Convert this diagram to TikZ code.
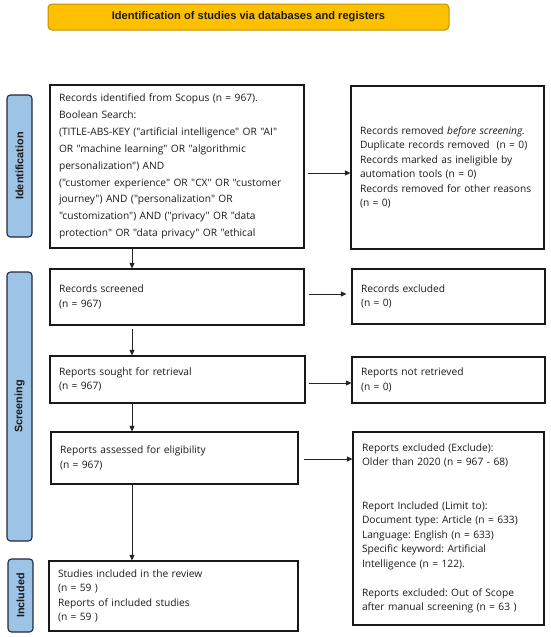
\documentclass[tikz,border=0pt]{standalone}
\usepackage{fontspec}
\setmainfont{Open Sans}[Ligatures=TeXOff]
\newfontfamily\arialfont{Liberation Sans}
\usetikzlibrary{arrows.meta}
\definecolor{gold}{HTML}{FFC000}
\definecolor{goldline}{HTML}{BF9000}
\definecolor{sideblue}{HTML}{9DC3E6}
\definecolor{sideline}{HTML}{1F2A3A}
\definecolor{txt}{HTML}{1A1A1A}
\frenchspacing
\begin{document}
\begin{tikzpicture}[x=1pt,y=-1pt,
  box/.style={draw=black!90, line width=1.1pt, rectangle, align=left, inner xsep=9pt, inner ysep=0pt,
    text=txt, font=\fontsize{10.2}{14.5}\selectfont, anchor=center},
  side/.style={draw=sideline, fill=sideblue, rounded corners=3.5pt, line width=1.1pt, rotate=90,
    minimum height=25pt, inner sep=0pt, text=txt, font=\arialfont\bfseries\fontsize{10.8}{12}\selectfont},
  arr/.style={-{Triangle[length=5.5pt,width=5pt]}, line width=0.8pt, draw=black!85}]
\useasboundingbox (0,0) rectangle (550,637);

\node[draw=goldline, fill=gold, rounded corners=4pt, line width=1pt, minimum width=401pt, minimum height=26pt,
  inner sep=0pt, text=txt, font=\arialfont\bfseries\fontsize{11.1}{12}\selectfont] (title) at (248.5,17)
  {Identification of studies via databases and registers};

\node[side, minimum width=142pt] (idlab) at (19.5,166) {Identification};
\node[side, minimum width=269pt] (scrlab) at (19.5,406.5) {Screening};
\node[side, minimum width=73pt] (inclab) at (20.5,595.5) {Included};

\node[box, text width=236pt, minimum height=163pt, font=\fontsize{10.2}{16.9}\selectfont] (b1) at (177,166.5)
{Records identified from Scopus (n = 967).\\
Boolean Search:\\
(TITLE-ABS-KEY ("artificial intelligence" OR "AI"\\
OR "machine learning" OR "algorithmic\\
personalization") AND\\
("customer experience" OR "CX" OR "customer\\
journey") AND ("personalization" OR\\
"customization") AND ("privacy" OR "data\\
protection" OR "data privacy" OR "ethical};

\node[box, text width=175pt, minimum height=163pt] (r1) at (447.5,167.5)
{Records removed \textit{before screening.}\\
Duplicate records removed~ (n = 0)\\
Records marked as ineligible by\\
automation tools (n = 0)\\
Records removed for other reasons\\
(n = 0)};

\node[box, text width=236pt, minimum height=56pt] (b2) at (177,297)
{Records screened\\(n = 967)};
\node[box, text width=175pt, minimum height=55pt] (r2) at (448.5,296.5)
{Records excluded\\(n = 0)};

\node[box, text width=237pt, minimum height=47pt] (b3) at (177.5,379.5)
{Reports sought for retrieval\\(n = 967)};
\node[box, text width=175pt, minimum height=46pt] (r3) at (448.5,380)
{Reports not retrieved\\(n = 0)};

\node[box, text width=229pt, minimum height=52pt] (b4) at (174.5,458)
{Reports assessed for eligibility\\(n = 967)};
\node[box, text width=173pt, minimum height=193pt] (r4) at (448.5,528.5)
{Reports excluded (Exclude):\\
Older than 2020 (n = 967 - 68)\\[14.5pt]
\mbox{}\\
Report Included (Limit to):\\
Document type: Article (n = 633)\\
Language: English (n = 633)\\
Specific keyword: Artificial\\
Intelligence (n = 122).\\
\mbox{}\\
Reports excluded: Out of Scope\\
after manual screening (n = 63 )};

\node[box, text width=231pt, minimum height=70pt] (b5) at (173.5,596)
{Studies included in the review\\
(n = 59 )\\
Reports of included studies\\
(n = 59 )};

\coordinate (vx) at (132,0);
\draw[arr] (b1.south -| vx) -- (b2.north -| vx);
\draw[arr, shorten <=3pt] (b2.south -| vx) -- (b3.north -| vx);
\draw[arr] (b3.south -| vx) -- (b4.north -| vx);
\draw[arr] (b4.south -| vx) -- (b5.north -| vx);

\draw[arr, shorten <=3pt] ([yshift=-6.5pt]b1.east) -- ([yshift=-6.5pt]b1.east -| r1.west);
\draw[arr, shorten <=4pt, shorten >=5pt] ([yshift=3pt]b2.east) -- ([yshift=3pt]b2.east -| r2.west);
\draw[arr, shorten <=3pt] ([yshift=-3.5pt]b3.east) -- ([yshift=-3.5pt]b3.east -| r3.west);
\draw[arr, shorten <=5pt] ([yshift=-1pt]b4.east) -- ([yshift=-1pt]b4.east -| r4.west);
\end{tikzpicture}
\end{document}
